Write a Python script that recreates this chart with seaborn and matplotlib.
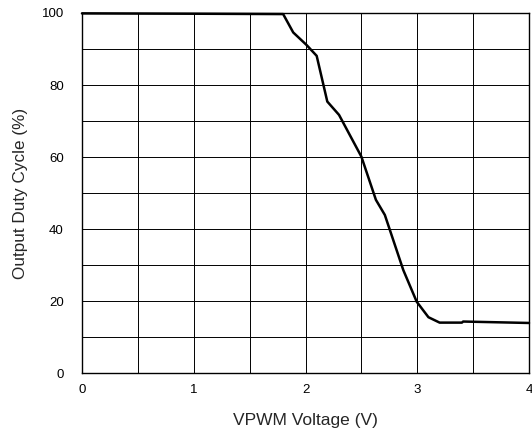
import matplotlib
matplotlib.use("Agg")
import matplotlib.pyplot as plt
import seaborn as sns
import pandas as pd
from matplotlib.ticker import MultipleLocator

voltage = [0.0, 1.0, 1.80, 1.89, 2.01, 2.10, 2.195, 2.30, 2.50, 2.63, 2.71, 2.875, 2.995, 3.10, 3.20, 3.40, 3.41, 4.0]
duty = [99.9, 99.8, 99.7, 94.6, 91.1, 88.1, 75.4, 71.7, 60.1, 48.1, 43.9, 28.6, 19.8, 15.5, 14.0, 14.0, 14.3, 13.9]

x_ticks = [0, 1, 2, 3, 4]
y_ticks = [0, 20, 40, 60, 80, 100]

sns.set_style("white")
plt.rcParams['font.family'] = ['Liberation Sans', 'DejaVu Sans']

fig = plt.figure(figsize=(5.32, 4.29), dpi=100)
ax = fig.add_axes([0.1541, 0.1305, 0.8403, 0.8392])

df = pd.DataFrame({"VPWM Voltage (V)": voltage, "Output Duty Cycle (%)": duty})
sns.lineplot(data=df, x="VPWM Voltage (V)", y="Output Duty Cycle (%)", ax=ax,
             color="black", linewidth=1.8, zorder=5, clip_on=False)

ax.set_xlim(0, 4)
ax.set_ylim(0, 100)
ax.set_xticks(x_ticks)
ax.set_yticks(y_ticks)
ax.xaxis.set_minor_locator(MultipleLocator(0.5))
ax.yaxis.set_minor_locator(MultipleLocator(10))
ax.grid(True, which="both", color="black", linewidth=0.7)
ax.tick_params(axis="both", which="both", length=0, labelsize=9.5, colors="black")
ax.tick_params(axis="x", pad=8)
ax.tick_params(axis="y", pad=13)
for s in ax.spines.values():
    s.set_color("black")
    s.set_linewidth(1.0)

ax.set_xlabel("VPWM Voltage (V)", fontsize=12.5, labelpad=12)
ax.set_ylabel("Output Duty Cycle (%)", fontsize=12.3, labelpad=10)

fig.savefig("out.png", dpi=100)
